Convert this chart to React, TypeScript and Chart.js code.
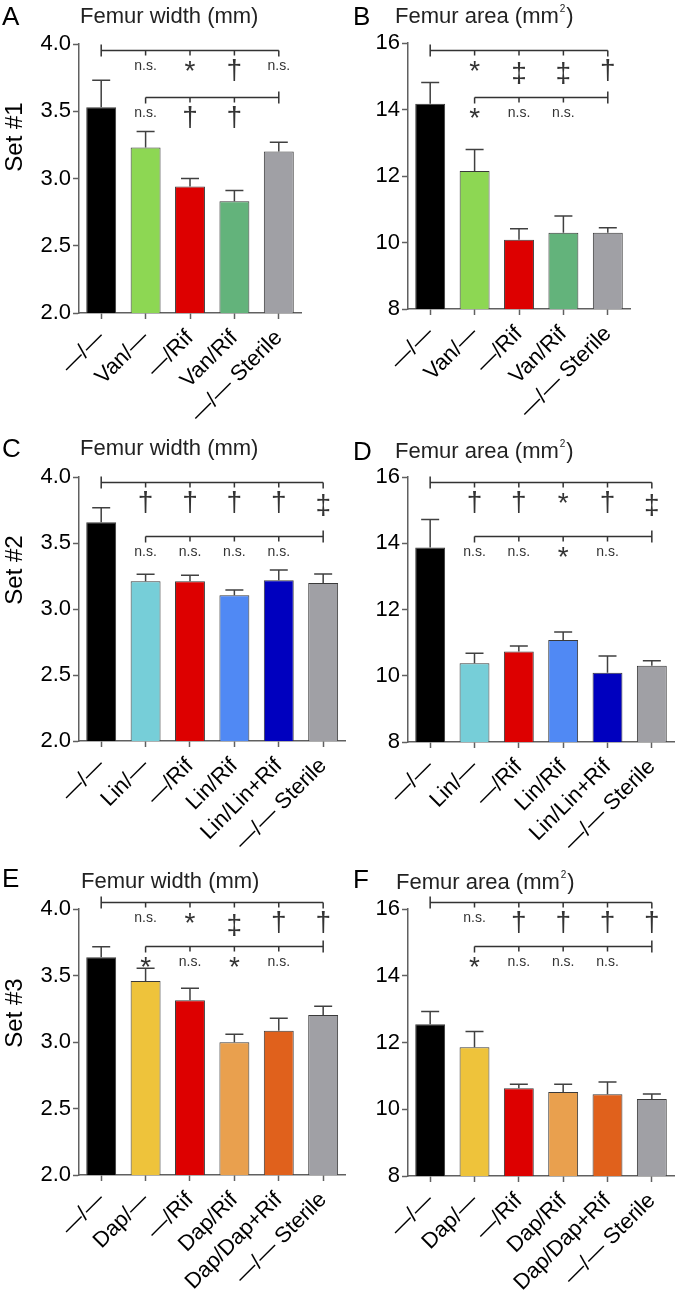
import React, { useEffect, useRef } from "react";
import { Chart, registerables } from "chart.js";
Chart.register(...registerables);

const FONT = "'Liberation Sans', Arial, Helvetica, sans-serif";
const AXIS = "#606060";
const INK = "#333333";

// ---- categories ----
const set1Labels = ["—/—", "Van/—", "—/Rif", "Van/Rif", "—/— Sterile"];
const set2Labels = ["—/—", "Lin/—", "—/Rif", "Lin/Rif", "Lin/Lin+Rif", "—/— Sterile"];
const set3Labels = ["—/—", "Dap/—", "—/Rif", "Dap/Rif", "Dap/Dap+Rif", "—/— Sterile"];

// ---- colours ----
const set1Colors = ["#000000", "#8DD753", "#DD0000", "#63B37B", "#A0A0A5"];
const set2Colors = ["#000000", "#76CED8", "#DD0000", "#5089F4", "#0000BF", "#A0A0A5"];
const set3Colors = ["#000000", "#EEC33B", "#DD0000", "#E9A04E", "#E0611C", "#A0A0A5"];

// ---- values (mean, upper error) ----
const set1WidthMean = [3.53, 3.23, 2.94, 2.83, 3.2];
const set1WidthErr = [0.2, 0.12, 0.06, 0.08, 0.07];
const set1AreaMean = [14.17, 12.15, 10.08, 10.29, 10.29];
const set1AreaErr = [0.64, 0.65, 0.33, 0.51, 0.15];

const set2WidthMean = [3.657, 3.21, 3.21, 3.104, 3.217, 3.197];
const set2WidthErr = [0.11, 0.053, 0.045, 0.04, 0.078, 0.068];
const set2AreaMean = [13.87, 10.38, 10.73, 11.08, 10.09, 10.3];
const set2AreaErr = [0.85, 0.3, 0.17, 0.24, 0.51, 0.15];

const set3WidthMean = [3.637, 3.459, 3.313, 2.998, 3.085, 3.203];
const set3WidthErr = [0.08, 0.095, 0.091, 0.06, 0.093, 0.065];
const set3AreaMean = [12.55, 11.86, 10.63, 10.52, 10.45, 10.31];
const set3AreaErr = [0.38, 0.47, 0.12, 0.23, 0.37, 0.15];

// ---- axis ranges ----
const widthRange = [2, 4, 0.5];
const areaRange = [8, 16, 2];

// ---- significance labels (top bracket vs —/—, lower bracket vs —/— Sterile) ----
const set1WidthSigTop = ["", "n.s.", "*", "†", "n.s."];
const set1WidthSigLow = ["", "n.s.", "†", "†", ""];
const set1AreaSigTop = ["", "*", "‡", "‡", "†"];
const set1AreaSigLow = ["", "*", "n.s.", "n.s.", ""];
const set2WidthSigTop = ["", "†", "†", "†", "†", "‡"];
const set2WidthSigLow = ["", "n.s.", "n.s.", "n.s.", "n.s.", ""];
const set2AreaSigTop = ["", "†", "†", "*", "†", "‡"];
const set2AreaSigLow = ["", "n.s.", "n.s.", "*", "n.s.", ""];
const set3WidthSigTop = ["", "n.s.", "*", "‡", "†", "†"];
const set3WidthSigLow = ["", "*", "n.s.", "*", "n.s.", ""];
const set3AreaSigTop = ["", "n.s.", "†", "†", "†", "†"];
const set3AreaSigLow = ["", "*", "n.s.", "n.s.", "n.s.", ""];

// bracket heights in data units [top, lower]
const set1WidthBrY = [3.955, 3.608];
const set1AreaBrY = [15.79, 14.39];
const set2WidthBrY = [3.96, 3.555];
const set2AreaBrY = [15.84, 14.23];
const set3WidthBrY = [4.055, 3.722];
const set3AreaBrY = [16.22, 14.89];

type Bracket = { y: number; from: number; to: number; up: "left" | "right"; labels: string[] };

interface PanelProps {
  left: number; top: number; width: number; height: number;
  plotTop: number; plotBottom: number; yAxisWidth: number; padRight: number;
  labels: string[]; colors: string[]; means: number[]; errs: number[];
  range: number[]; decimals: number;
  brackets: Bracket[];
  letter: string; letterX: number; letterBase: number;
  title: string; titleSup?: string; titleX: number; titleBase: number;
  setLabel?: string; setY?: number;
}

function makeBrackets(labels: string[], top: string[], low: string[], ys: number[]): Bracket[] {
  const last = labels.length - 1;
  return [
    { y: ys[0], from: 0, to: last, up: "left", labels: top },
    { y: ys[1], from: 1, to: last, up: "right", labels: low },
  ];
}

function Panel(p: PanelProps) {
  const ref = useRef<HTMLCanvasElement>(null);
  useEffect(() => {
    const canvas = ref.current!;
    const errorBars = {
      id: "errorBars",
      afterDatasetsDraw(chart: any) {
        const ctx = chart.ctx;
        const ys = chart.scales.y;
        const meta = chart.getDatasetMeta(0);
        ctx.save();
        ctx.strokeStyle = "#404040";
        ctx.lineWidth = 1.5;
        meta.data.forEach((el: any, i: number) => {
          const x = el.x;
          const y0 = ys.getPixelForValue(p.means[i]);
          const y1 = ys.getPixelForValue(p.means[i] + p.errs[i]);
          ctx.beginPath();
          ctx.moveTo(x, y0);
          ctx.lineTo(x, y1);
          ctx.moveTo(x - 9, y1);
          ctx.lineTo(x + 9, y1);
          ctx.stroke();
        });
        ctx.restore();
      },
    };
    const sig = {
      id: "sig",
      afterDraw(chart: any) {
        const ctx = chart.ctx;
        const xs = chart.scales.x;
        const ys = chart.scales.y;
        ctx.save();
        ctx.strokeStyle = INK;
        ctx.fillStyle = INK;
        ctx.lineWidth = 1.5;
        p.brackets.forEach((b) => {
          const py = Math.round(ys.getPixelForValue(b.y)) + 0.5;
          const x1 = xs.getPixelForValue(b.from);
          const x2 = xs.getPixelForValue(b.to);
          ctx.beginPath();
          ctx.moveTo(x1, py);
          ctx.lineTo(x2, py);
          for (let i = b.from; i <= b.to; i++) {
            const x = xs.getPixelForValue(i);
            const isEnd = i === b.from || i === b.to;
            ctx.moveTo(x, py);
            ctx.lineTo(x, py + (isEnd ? 6 : 5));
          }
          const ux = b.up === "left" ? x1 : x2;
          ctx.moveTo(ux, py);
          ctx.lineTo(ux, py - 6);
          ctx.stroke();
          ctx.textAlign = "center";
          ctx.textBaseline = "alphabetic";
          b.labels.forEach((t, i) => {
            if (!t) return;
            const x = xs.getPixelForValue(i);
            if (t === "n.s.") {
              ctx.font = `14px ${FONT}`;
              ctx.fillText(t, x, py + 19);
            } else if (t === "*") {
              ctx.font = `28px ${FONT}`;
              ctx.fillText(t, x, py + 29);
            } else if (t === "†") {
              ctx.font = `28px ${FONT}`;
              ctx.fillText(t, x, py + 28);
            } else {
              ctx.font = `28px ${FONT}`;
              ctx.fillText(t, x, py + 31);
            }
          });
        });
        ctx.restore();
      },
    };
    const texts = {
      id: "texts",
      afterDraw(chart: any) {
        const ctx = chart.ctx;
        ctx.save();
        ctx.textBaseline = "alphabetic";
        ctx.textAlign = "left";
        ctx.fillStyle = "#000";
        ctx.font = `26px ${FONT}`;
        ctx.fillText(p.letter, p.letterX, p.letterBase);
        ctx.fillStyle = "#222";
        ctx.font = `22px ${FONT}`;
        ctx.fillText(p.title, p.titleX, p.titleBase);
        if (p.titleSup) {
          const w = ctx.measureText(p.title).width;
          ctx.font = `10px ${FONT}`;
          ctx.fillText(p.titleSup, p.titleX + w + 1, p.titleBase - 11);
          const w2 = ctx.measureText(p.titleSup).width;
          ctx.font = `22px ${FONT}`;
          ctx.fillText(")", p.titleX + w + w2 + 2, p.titleBase);
        }
        if (p.setLabel) {
          ctx.fillStyle = "#000";
          ctx.font = `24px ${FONT}`;
          ctx.translate(22, p.setY!);
          ctx.rotate(-Math.PI / 2);
          ctx.textAlign = "center";
          ctx.fillText(p.setLabel, 0, 0);
        }
        ctx.restore();
      },
    };
    const [yMin, yMax, yStep] = p.range;
    const chart = new Chart(canvas, {
      type: "bar",
      data: {
        labels: p.labels,
        datasets: [
          {
            data: p.means,
            backgroundColor: p.colors,
            borderColor: "#3a3a3a",
            borderWidth: 1,
            borderSkipped: false,
            barPercentage: 0.674,
            categoryPercentage: 1,
          },
        ],
      },
      options: {
        responsive: false,
        animation: false,
        devicePixelRatio: 1,
        layout: { padding: { top: p.plotTop - p.top, left: 0, right: p.padRight, bottom: 0 } },
        plugins: { legend: { display: false }, tooltip: { enabled: false }, title: { display: false } },
        scales: {
          x: {
            type: "category",
            offset: true,
            grid: {
              display: true, drawOnChartArea: false, drawTicks: true, tickLength: 6,
              tickWidth: 1.5, tickColor: AXIS, offset: false,
            },
            border: { display: true, color: AXIS, width: 1.5 },
            ticks: {
              autoSkip: false, maxRotation: 45, minRotation: 45, padding: 6,
              color: "#000", font: { family: FONT, size: 22 },
            },
            afterFit: (s: any) => { s.height = p.top + p.height - p.plotBottom; },
          },
          y: {
            min: yMin, max: yMax,
            grid: {
              display: true, drawOnChartArea: false, drawTicks: true, tickLength: 6,
              tickWidth: 1.5, tickColor: AXIS,
            },
            border: { display: true, color: AXIS, width: 1.5 },
            ticks: {
              stepSize: yStep, padding: 2, color: "#000", font: { family: FONT, size: 22 },
              callback: (v: any) => Number(v).toFixed(p.decimals),
            },
            afterFit: (s: any) => { s.width = p.yAxisWidth; },
          },
        },
      } as any,
      plugins: [errorBars, sig, texts],
    });
    return () => chart.destroy();
  }, []);
  return (
    <canvas
      ref={ref}
      width={p.width}
      height={p.height}
      style={{ position: "absolute", left: p.left, top: p.top, width: p.width, height: p.height }}
    />
  );
}

export default function App() {
  const panels: PanelProps[] = [
    {
      left: 0, top: 0, width: 348, height: 425, plotTop: 44, plotBottom: 313, yAxisWidth: 79, padRight: 47,
      labels: set1Labels, colors: set1Colors, means: set1WidthMean, errs: set1WidthErr,
      range: widthRange, decimals: 1,
      brackets: makeBrackets(set1Labels, set1WidthSigTop, set1WidthSigLow, set1WidthBrY),
      letter: "A", letterX: 2, letterBase: 25, title: "Femur width (mm)", titleX: 80, titleBase: 23,
      setLabel: "Set #1", setY: 137,
    },
    {
      left: 340, top: 0, width: 337, height: 425, plotTop: 43, plotBottom: 309, yAxisWidth: 68, padRight: 47,
      labels: set1Labels, colors: set1Colors, means: set1AreaMean, errs: set1AreaErr,
      range: areaRange, decimals: 0,
      brackets: makeBrackets(set1Labels, set1AreaSigTop, set1AreaSigLow, set1AreaBrY),
      letter: "B", letterX: 13, letterBase: 25, title: "Femur area (mm", titleSup: "2", titleX: 55, titleBase: 23,
    },
    {
      left: 0, top: 425, width: 348, height: 430, plotTop: 477, plotBottom: 741, yAxisWidth: 79, padRight: 2,
      labels: set2Labels, colors: set2Colors, means: set2WidthMean, errs: set2WidthErr,
      range: widthRange, decimals: 1,
      brackets: makeBrackets(set2Labels, set2WidthSigTop, set2WidthSigLow, set2WidthBrY),
      letter: "C", letterX: 2, letterBase: 32, title: "Femur width (mm)", titleX: 80, titleBase: 30,
      setLabel: "Set #2", setY: 145,
    },
    {
      left: 340, top: 425, width: 337, height: 430, plotTop: 477, plotBottom: 742, yAxisWidth: 68, padRight: 3,
      labels: set2Labels, colors: set2Colors, means: set2AreaMean, errs: set2AreaErr,
      range: areaRange, decimals: 0,
      brackets: makeBrackets(set2Labels, set2AreaSigTop, set2AreaSigLow, set2AreaBrY),
      letter: "D", letterX: 13, letterBase: 35, title: "Femur area (mm", titleSup: "2", titleX: 55, titleBase: 33,
    },
    {
      left: 0, top: 855, width: 348, height: 436, plotTop: 909, plotBottom: 1175, yAxisWidth: 79, padRight: 2,
      labels: set3Labels, colors: set3Colors, means: set3WidthMean, errs: set3WidthErr,
      range: widthRange, decimals: 1,
      brackets: makeBrackets(set3Labels, set3WidthSigTop, set3WidthSigLow, set3WidthBrY),
      letter: "E", letterX: 2, letterBase: 32, title: "Femur width (mm)", titleX: 81, titleBase: 33,
      setLabel: "Set #3", setY: 158,
    },
    {
      left: 340, top: 855, width: 337, height: 436, plotTop: 909, plotBottom: 1176, yAxisWidth: 68, padRight: 3,
      labels: set3Labels, colors: set3Colors, means: set3AreaMean, errs: set3AreaErr,
      range: areaRange, decimals: 0,
      brackets: makeBrackets(set3Labels, set3AreaSigTop, set3AreaSigLow, set3AreaBrY),
      letter: "F", letterX: 13, letterBase: 33, title: "Femur area (mm", titleSup: "2", titleX: 56, titleBase: 34,
    },
  ];
  return (
    <div style={{ position: "absolute", left: 0, top: 0, width: 677, height: 1291, background: "#fff" }}>
      {panels.map((p, i) => (
        <Panel key={i} {...p} />
      ))}
    </div>
  );
}
